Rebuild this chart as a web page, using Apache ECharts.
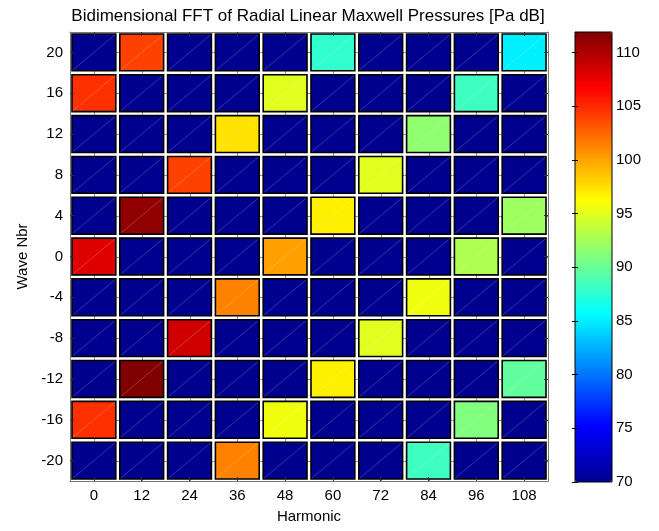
<!DOCTYPE html>
<html>
<head>
<meta charset="utf-8">
<script src="https://cdn.jsdelivr.net/npm/echarts@6/dist/echarts.min.js"></script>
<style>
html,body{margin:0;padding:0;background:#fff;}
#chart{width:659px;height:531px;}
</style>
</head>
<body>
<div id="chart"></div>
<script>
// Categories
const harmonics = ['0', '12', '24', '36', '48', '60', '72', '84', '96', '108'];
const waveNumbers = ['-20', '-16', '-12', '-8', '-4', '0', '4', '8', '12', '16', '20'];

// Values [Pa dB], one array per wave number, columns follow harmonics
const wave20  = [70, 104.0, 70, 70, 70, 87.7, 70, 70, 70, 85.1];
const wave16  = [104.7, 70, 70, 70, 94.9, 70, 70, 70, 88.3, 70];
const wave12  = [70, 70, 70, 97.4, 70, 70, 70, 91.6, 70, 70];
const wave8   = [70, 70, 104.0, 70, 70, 70, 94.9, 70, 70, 70];
const wave4   = [70, 111.2, 70, 70, 70, 96.8, 70, 70, 70, 92.2];
const wave0   = [108.0, 70, 70, 70, 100.1, 70, 70, 70, 92.9, 70];
const waveM4  = [70, 70, 70, 101.4, 70, 70, 70, 95.6, 70, 70];
const waveM8  = [70, 70, 108.6, 70, 70, 70, 94.9, 70, 70, 70];
const waveM12 = [70, 111.9, 70, 70, 70, 96.8, 70, 70, 70, 89.7];
const waveM16 = [104.7, 70, 70, 70, 95.6, 70, 70, 70, 91.0, 70];
const waveM20 = [70, 70, 70, 101.4, 70, 70, 70, 88.3, 70, 70];

// Colour scale limits and tick labels
const colorMin = 70;
const colorMax = 111.9;
const colorTicks = [70, 75, 80, 85, 90, 95, 100, 105, 110];

const rowsBottomToTop = [waveM20, waveM16, waveM12, waveM8, waveM4, wave0, wave4, wave8, wave12, wave16, wave20];
const cells = [];
rowsBottomToTop.forEach((row, yi) => {
  row.forEach((v, xi) => cells.push([xi, yi, v]));
});

const jet = ['#00008f', '#0000ff', '#0080ff', '#00ffff', '#80ff80', '#ffff00', '#ff8000', '#ff0000', '#800000'];
const FONT = 'Liberation Sans, Arial, Helvetica, sans-serif';
const FS = 15;

const chart = echarts.init(document.getElementById('chart'), null, {renderer: 'canvas'});
chart.setOption({
  animation: false,
  backgroundColor: '#fff',
  title: {
    text: 'Bidimensional FFT of Radial Linear Maxwell Pressures [Pa dB]',
    left: 303, top: 3, textAlign: 'center',
    textStyle: {fontFamily: FONT, fontSize: 17, fontWeight: 'normal', color: '#000'}
  },
  grid: [
    {left: 70, top: 32, width: 478, height: 449, show: false},
    {left: 575, top: 32, width: 37, height: 450, show: true, borderColor: '#000', borderWidth: 1, backgroundColor: 'transparent', z: 10}
  ],
  xAxis: [
    {
      type: 'category', data: harmonics, gridIndex: 0, position: 'bottom',
      name: 'Harmonic', nameLocation: 'middle', nameGap: 28,
      nameTextStyle: {fontFamily: FONT, fontSize: FS, color: '#000'},
      axisLine: {show: true, lineStyle: {color: '#7a7a7a', width: 1}},
      axisTick: {show: true, inside: true, length: 4, alignWithLabel: true, lineStyle: {color: '#333'}},
      axisLabel: {fontFamily: FONT, fontSize: FS, color: '#000', margin: 7},
      splitLine: {show: false},
      z: 5
    },
    {
      type: 'category', data: harmonics, gridIndex: 0, position: 'top',
      axisLine: {show: true, lineStyle: {color: '#7a7a7a', width: 1}},
      axisTick: {show: true, inside: true, length: 4, alignWithLabel: true, lineStyle: {color: '#333'}},
      axisLabel: {show: false}, splitLine: {show: false}, z: 5
    },
    {
      type: 'value', gridIndex: 1, min: 0, max: 1,
      axisLine: {show: false}, axisTick: {show: false}, axisLabel: {show: false}, splitLine: {show: false}
    }
  ],
  yAxis: [
    {
      type: 'category', data: waveNumbers, gridIndex: 0, position: 'left',
      name: 'Wave Nbr', nameLocation: 'middle', nameGap: 40, nameRotate: 90,
      nameTextStyle: {fontFamily: FONT, fontSize: FS, color: '#000'},
      axisLine: {show: true, lineStyle: {color: '#7a7a7a', width: 1}},
      axisTick: {show: true, inside: true, length: 4, alignWithLabel: true, lineStyle: {color: '#333'}},
      axisLabel: {fontFamily: FONT, fontSize: FS, color: '#000', margin: 7},
      splitLine: {show: false},
      z: 5
    },
    {
      type: 'category', data: waveNumbers, gridIndex: 0, position: 'right',
      axisLine: {show: true, lineStyle: {color: '#7a7a7a', width: 1}},
      axisTick: {show: true, inside: true, length: 4, alignWithLabel: true, lineStyle: {color: '#333'}},
      axisLabel: {show: false}, splitLine: {show: false}, z: 5
    },
    {
      type: 'value', gridIndex: 1, min: colorMin, max: colorMax, interval: 5, position: 'right',
      axisLine: {show: false},
      axisTick: {show: true, inside: true, length: 3, lineStyle: {color: '#000'}},
      axisLabel: {
        fontFamily: FONT, fontSize: FS, color: '#000', margin: 4, showMaxLabel: false,
        formatter: v => (colorTicks.indexOf(v) >= 0 ? String(v) : '')
      },
      splitLine: {show: false}, z: 10
    },
    {
      type: 'value', gridIndex: 1, min: colorMin, max: colorMax, interval: 5, position: 'left',
      axisLine: {show: false},
      axisTick: {show: true, inside: true, length: 3, lineStyle: {color: '#000'}},
      axisLabel: {show: false}, splitLine: {show: false}, z: 10
    }
  ],
  visualMap: {
    type: 'continuous', min: colorMin, max: colorMax, dimension: 2, seriesIndex: 0,
    orient: 'vertical', left: 575, top: 32, itemWidth: 37, itemHeight: 450,
    padding: 0, calculable: false, hoverLink: false, text: null, z: 1,
    inRange: {color: jet}
  },
  series: [{
    type: 'custom',
    xAxisIndex: 0, yAxisIndex: 0,
    encode: {x: 0, y: 1},
    data: cells,
    z: 3,
    renderItem: function (params, api) {
      const c = api.coord([api.value(0), api.value(1)]);
      const s = api.size([1, 1]);
      const w = s[0] - 4, h = s[1] - 4;
      const x = c[0] - w / 2, y = c[1] - h / 2;
      return {
        type: 'group',
        children: [
          {type: 'line', shape: {x1: c[0] - s[0] / 2, y1: Math.round(c[1]) + 0.5, x2: c[0] + s[0] / 2, y2: Math.round(c[1]) + 0.5},
           style: {stroke: '#8a8a8a', lineWidth: 1}},
          {type: 'line', shape: {x1: Math.round(c[0]) + 0.5, y1: c[1] - s[1] / 2, x2: Math.round(c[0]) + 0.5, y2: c[1] + s[1] / 2},
           style: {stroke: '#8a8a8a', lineWidth: 1}},
          {type: 'rect', shape: {x: x, y: y, width: w, height: h},
           style: {fill: api.visual('color'), stroke: '#000', lineWidth: 1.6}},
          {type: 'line', shape: {x1: x + 1, y1: y + h - 1, x2: x + w - 1, y2: y + 1},
           style: {stroke: 'rgba(255,255,255,0.35)', lineWidth: 0.6}}
        ]
      };
    }
  }]
});
</script>
</body>
</html>
